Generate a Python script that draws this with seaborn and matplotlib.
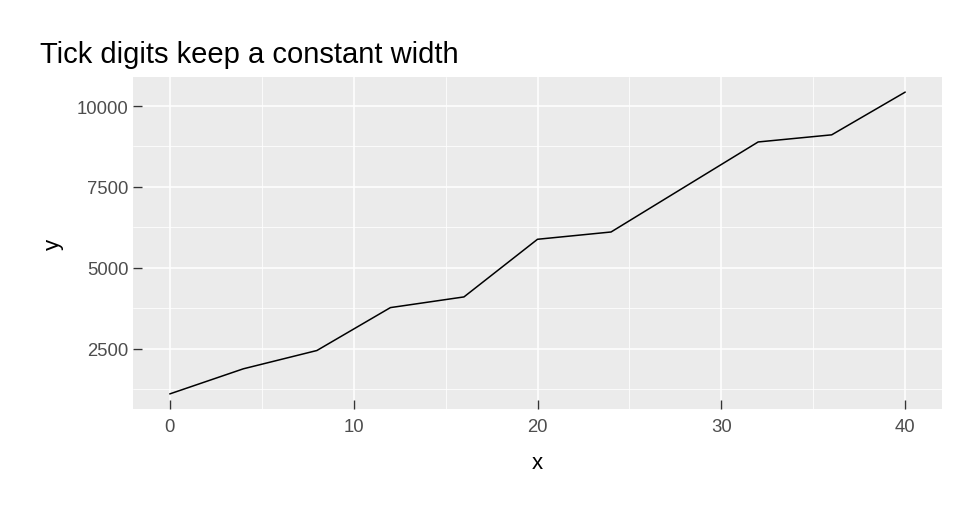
import numpy as np
import pandas as pd
import matplotlib.pyplot as plt
import seaborn as sns
from matplotlib.ticker import MultipleLocator

# data
x_vals = [0, 4, 8, 12, 16, 20, 24, 28, 32, 36, 40]
y_vals = [1110, 1885, 2450, 3775, 4105, 5885, 6110, 7500, 8890, 9110, 10430]
x_ticks = [0, 10, 20, 30, 40]
y_ticks = [2500, 5000, 7500, 10000]

df = pd.DataFrame({"x": x_vals, "y": y_vals})

sns.set_theme(style="darkgrid", rc={
    "axes.facecolor": "#EBEBEB",
    "grid.color": "white",
    "axes.edgecolor": "none",
    "xtick.bottom": True,
    "ytick.left": True,
})
plt.rcParams["font.family"] = ["Liberation Sans", "DejaVu Sans"]

fig = plt.figure(figsize=(9.75, 5.1), dpi=100)
ax = fig.add_axes([133 / 975, 1 - 410 / 510, 809 / 975, 332 / 510])

sns.lineplot(data=df, x="x", y="y", ax=ax, color="black", linewidth=1.1)

# ggplot-like 5% expansion
xr = max(x_vals) - min(x_vals)
yr = max(y_vals) - min(y_vals)
ax.set_xlim(min(x_vals) - 0.05 * xr, max(x_vals) + 0.05 * xr)
ax.set_ylim(min(y_vals) - 0.05 * yr, max(y_vals) + 0.05 * yr)

ax.set_xticks(x_ticks)
ax.set_yticks(y_ticks)
ax.xaxis.set_minor_locator(MultipleLocator(5))
ax.yaxis.set_minor_locator(MultipleLocator(1250))
ax.grid(which="major", color="white", linewidth=1.1)
ax.grid(which="minor", color="white", linewidth=0.55)

# ticks sit inside the panel
ax.tick_params(which="major", bottom=True, left=True, direction="in",
               length=6.5, width=1.0, color="#333333",
               labelsize=13.3, labelcolor="#4D4D4D")
ax.tick_params(axis="x", which="major", pad=6.5)
ax.tick_params(axis="y", which="major", pad=3)
ax.tick_params(which="minor", length=0)
for s in ax.spines.values():
    s.set_visible(False)

ax.set_xlabel("x", fontsize=16, color="black")
ax.set_ylabel("y", fontsize=16, color="black")
ax.xaxis.set_label_coords(0.5, -0.13)
ax.yaxis.set_label_coords(-0.085, 0.5)

fig.text(40 / 975, 1 - 63 / 510, "Tick digits keep a constant width",
         fontsize=21, color="black", ha="left", va="baseline")

fig.savefig("out.png", dpi=100)
